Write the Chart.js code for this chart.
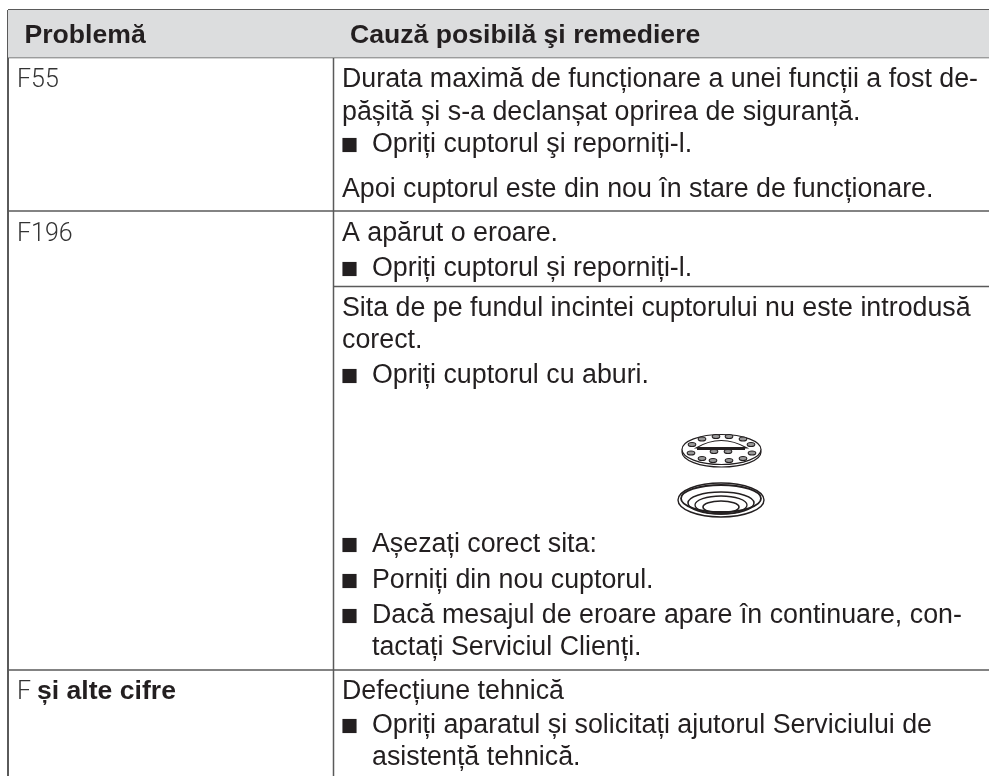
<!DOCTYPE html>
<html lang="ro">
<head>
<meta charset="UTF-8">
<title>Problemă</title>
<script src="https://cdn.jsdelivr.net/npm/chart.js"></script>
<style>
    body { margin: 0; background: #fff; }
    canvas { display: block; }
</style>
</head>
<body>
<canvas id="tabel" width="989" height="776"></canvas>
<script>
// continutul tabelului
const headers = ['Problemă', 'Cauză posibilă şi remediere'];
const problems = ['F55', 'F196', 'F'];
const problemSuffix = 'și alte cifre';
const causeLines = [
    'Durata maximă de funcționare a unei funcții a fost de-',
    'pășită și s-a declanșat oprirea de siguranță.',
    'Opriți cuptorul şi reporniți-l.',
    'Apoi cuptorul este din nou în stare de funcționare.',
    'A apărut o eroare.',
    'Opriți cuptorul și reporniți-l.',
    'Sita de pe fundul incintei cuptorului nu este introdusă',
    'corect.',
    'Opriți cuptorul cu aburi.',
    'Așezați corect sita:',
    'Porniți din nou cuptorul.',
    'Dacă mesajul de eroare apare în continuare, con-',
    'tactați Serviciul Clienți.',
    'Defecțiune tehnică',
    'Opriți aparatul și solicitați ajutorul Serviciului de',
    'asistență tehnică.'
];
const bulletLines = [2, 5, 8, 9, 10, 11, 14];
const indentedLines = [2, 5, 8, 9, 10, 11, 12, 14, 15];

// pozitii, in pixeli
const causeBaselines = [87, 120, 152, 197, 241, 276, 316, 348, 383, 552, 588, 623, 655, 699, 733, 765];
const problemBaselines = [87, 241, 699];
const headerBaseline = 43;
const rowRules = [57.5, 211, 670];
const innerRule = 286.5;
const tableLeft = 8, tableRight = 989, tableTop = 10, tableBottom = 776, colSplit = 333.5;

const textColor = '#231f20';
const ruleColor = '#5a5a5a';
const bodyFont = '26.8px "Liberation Sans"';
const boldFont = 'bold 26.6px "Liberation Sans"';
const codeFont = '300 25px Roboto';

function seg(x1, y1, x2, y2, width) {
    return {
        type: 'line',
        data: [{ x: x1, y: y1 }, { x: x2, y: y2 }],
        borderColor: ruleColor,
        borderWidth: width,
        pointRadius: 0,
        clip: false
    };
}

const datasets = [];

// banda gri din capul tabelului
datasets.push({
    type: 'line',
    data: [{ x: tableLeft, y: tableTop }, { x: tableRight, y: tableTop }],
    borderWidth: 0,
    pointRadius: 0,
    backgroundColor: '#dcddde',
    fill: { target: { value: rowRules[0] } },
    clip: false
});

datasets.push(seg(tableLeft, tableTop, tableRight, tableTop, 2));
rowRules.forEach(y => datasets.push(seg(tableLeft, y, tableRight, y, 1.5)));
datasets.push(seg(colSplit, innerRule, tableRight, innerRule, 1.5));
datasets.push(seg(tableLeft, tableTop, tableLeft, tableBottom, 2));
datasets.push(seg(colSplit, tableTop, colSplit, tableBottom, 1.5));

// patratele de la liste
datasets.push({
    type: 'scatter',
    data: bulletLines.map(i => ({ x: 349.5, y: causeBaselines[i] - 7 })),
    pointStyle: 'rect',
    pointRadius: 10,
    pointRotation: 0,
    backgroundColor: textColor,
    borderWidth: 0,
    clip: false
});

// textul si desenul sitei
const tableText = {
    id: 'tableText',
    afterDatasetsDraw(chart) {
        const ctx = chart.ctx;
        const sx = chart.scales.x, sy = chart.scales.y;
        const put = (str, x, y, font, color) => {
            ctx.font = font;
            ctx.fillStyle = color;
            ctx.fillText(str, sx.getPixelForValue(x), sy.getPixelForValue(y));
        };
        ctx.save();
        ctx.textBaseline = 'alphabetic';
        put(headers[0], 24.5, headerBaseline, boldFont, textColor);
        put(headers[1], 350, headerBaseline, boldFont, textColor);
        put(problems[0], 17, problemBaselines[0], codeFont, '#333');
        put(problems[1], 17, problemBaselines[1], codeFont, '#333');
        put(problems[2], 17, problemBaselines[2], codeFont, '#333');
        put(problemSuffix, 37, problemBaselines[2], boldFont, textColor);
        causeLines.forEach((line, i) => {
            const x = indentedLines.includes(i) ? 372 : 342;
            put(line, x, causeBaselines[i], bodyFont, textColor);
        });

        // sita
        ctx.strokeStyle = textColor;
        const ring = (cx, cy, rx, ry, w, fill) => {
            ctx.beginPath();
            ctx.ellipse(cx, cy, rx, ry, 0, 0, Math.PI * 2);
            if (fill) { ctx.fillStyle = fill; ctx.fill(); }
            ctx.lineWidth = w;
            ctx.stroke();
        };
        ring(721.5, 452, 39.5, 15, 1.2, '#fff');
        ring(721.5, 449.5, 39.5, 15, 1.2, '#fff');
        const holes = [[702, 439], [716, 436.5], [729, 436.5], [743, 439], [692, 444.5], [751, 444.5],
            [691, 453], [702, 458.5], [713, 460.5], [729, 460.5], [743, 458.5], [752, 453], [714, 451.5], [728, 451.5]];
        holes.forEach(h => ring(h[0], h[1], 3.8, 2, 1.1, '#999'));
        ctx.beginPath();
        ctx.moveTo(696, 448);
        ctx.quadraticCurveTo(721, 433, 747, 448);
        ctx.closePath();
        ctx.fillStyle = '#fff';
        ctx.fill();
        ctx.lineWidth = 1.2;
        ctx.stroke();
        ctx.fillStyle = textColor;
        ctx.fillRect(697, 447, 48, 3);

        ring(721, 500, 43, 17, 1.4);
        ring(721, 498.5, 40, 13.5, 1.8);
        ring(721, 503, 33, 11, 1.5);
        ring(721, 505, 26, 9, 1.3);
        ring(721, 507, 18, 6, 1.6);
        ctx.restore();
    }
};

new Chart(document.getElementById('tabel'), {
    type: 'scatter',
    data: { datasets: datasets },
    options: {
        responsive: false,
        animation: false,
        events: [],
        layout: { padding: 0, autoPadding: false },
        plugins: { legend: { display: false }, tooltip: { enabled: false }, title: { display: false } },
        scales: {
            x: { type: 'linear', min: 0, max: 989, display: false },
            y: { type: 'linear', min: 0, max: 776, reverse: true, display: false }
        }
    },
    plugins: [tableText]
});
</script>
</body>
</html>
